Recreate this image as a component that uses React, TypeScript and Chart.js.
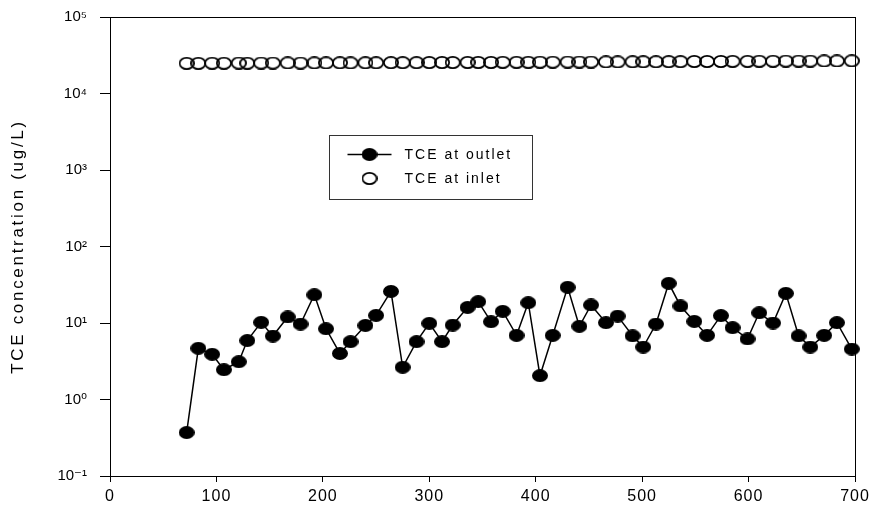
import React, { useEffect, useRef } from "react";
import { Chart, registerables } from "chart.js";

Chart.register(...registerables);

const days = [
  72, 83, 96, 107, 121, 129, 142, 153, 167, 179, 192, 203, 216, 226, 240, 250, 264, 275,
  288, 300, 312, 322, 336, 346, 358, 369, 382, 393, 404, 416, 430, 441, 452, 466, 477, 491,
  501, 513, 525, 536, 549, 561, 574, 585, 599, 610, 623, 635, 647, 658, 671, 683, 697,
];
const outletTCE = [
  0.37, 4.67, 3.9, 2.45, 3.12, 5.9, 10.2, 6.76, 12.0, 9.7, 23.4, 8.4, 4.0, 5.7, 9.3, 12.6, 25.9, 2.64,
  5.7, 9.9, 5.7, 9.4, 16.0, 19.0, 10.4, 14.2, 6.9, 18.4, 2.05, 6.9, 29.3, 9.06, 17.2, 10.1, 12.3, 6.8,
  4.85, 9.7, 33.0, 16.7, 10.5, 6.9, 12.5, 8.7, 6.2, 13.6, 10.0, 24.4, 6.8, 4.85, 6.9, 10.1, 4.57,
];
const inletTCE = [
  24800, 24800, 24900, 24900, 25000, 24900, 25000, 25000, 25100, 25000, 25100, 25100, 25200, 25100,
  25200, 25200, 25300, 25300, 25300, 25400, 25400, 25400, 25500, 25500, 25500, 25600, 25600, 25600,
  25700, 25700, 25800, 25800, 25800, 25900, 25900, 26000, 26000, 26000, 26100, 26100, 26200, 26200,
  26200, 26300, 26300, 26400, 26400, 26500, 26500, 26500, 26600, 26600, 26700,
];
const xMin = 0;
const xMax = 700;
const xStep = 100;
const yTickValues = [0.1, 1, 10, 100, 1000, 10000, 100000];
const yTickLabels = ["10⁻¹", "10⁰", "10¹", "10²", "10³", "10⁴", "10⁵"];
const seriesLabels = ["TCE at outlet", "TCE at inlet"];
const yTitle = "TCE concentration (ug/L)";

const FONT = "'Liberation Sans', Arial, 'DejaVu Sans', sans-serif";

function ellipseImage(w: number, h: number, filled: boolean, lw: number) {
  const c = document.createElement("canvas");
  c.width = w;
  c.height = h;
  const ctx = c.getContext("2d")!;
  ctx.beginPath();
  if (filled) {
    ctx.ellipse(w / 2, h / 2, w / 2, h / 2, 0, 0, Math.PI * 2);
    ctx.fillStyle = "#000";
    ctx.fill();
  } else {
    ctx.ellipse(w / 2, h / 2, w / 2 - lw / 2, h / 2 - lw / 2, 0, 0, Math.PI * 2);
    ctx.lineWidth = lw;
    ctx.strokeStyle = "#000";
    ctx.stroke();
  }
  return c;
}

function spaced(scale: any, method: string, spacing: string) {
  const key = "_sp_" + method;
  if (scale[key]) return;
  const orig = scale[method].bind(scale);
  scale[method] = (...args: any[]) => {
    const ctx = scale.ctx;
    const prev = ctx.letterSpacing;
    ctx.letterSpacing = spacing;
    orig(...args);
    ctx.letterSpacing = prev || "0px";
  };
  scale[key] = true;
}

function noPad(s: any) {
  s.paddingTop = 0;
  s.paddingBottom = 0;
  s.paddingLeft = 0;
  s.paddingRight = 0;
}

export default function App() {
  const ref = useRef<HTMLCanvasElement | null>(null);

  useEffect(() => {
    const canvas = ref.current;
    if (!canvas) return;
    const filledImg = ellipseImage(16, 13, true, 0);
    const openImg = ellipseImage(16, 13, false, 1.8);

    const frameAndLegend = {
      id: "frameAndLegend",
      afterDraw(chart: any) {
        const { ctx, chartArea } = chart;
        ctx.save();
        ctx.strokeStyle = "#000";
        ctx.lineWidth = 1;
        ctx.strokeRect(chartArea.left + 0.5, chartArea.top + 0.5, chartArea.right - chartArea.left, chartArea.bottom - chartArea.top);

        // legend box
        const bx = chartArea.left + 219.5;
        const by = chartArea.top + 118.5;
        ctx.strokeStyle = "#333";
        ctx.strokeRect(bx, by, 203, 64);
        const ds = chart.data.datasets;
        const rows = [by + 19, by + 43];
        const mx = bx + 40;
        ctx.font = "14px " + FONT;
        ctx.fillStyle = "#000";
        ctx.textBaseline = "middle";
        ctx.textAlign = "left";
        (ctx as any).letterSpacing = "2px";
        ds.forEach((d: any, i: number) => {
          const y = rows[i];
          if (d.showLine) {
            ctx.strokeStyle = "#000";
            ctx.lineWidth = 1.5;
            ctx.beginPath();
            ctx.moveTo(mx - 22, y);
            ctx.lineTo(mx + 22, y);
            ctx.stroke();
          }
          const img = d.pointStyle as HTMLCanvasElement;
          ctx.drawImage(img, mx - img.width / 2, y - img.height / 2);
          ctx.fillText(d.label, bx + 75, y + 1);
        });
        (ctx as any).letterSpacing = "0px";
        ctx.restore();
      },
    };

    const chart = new Chart(canvas, {
      type: "scatter",
      data: {
        datasets: [
          {
            label: seriesLabels[0],
            data: days.map((d, i) => ({ x: d, y: outletTCE[i] })),
            showLine: true,
            borderColor: "#000",
            borderWidth: 1.5,
            pointStyle: filledImg as any,
            pointRadius: 7,
            clip: false as any,
          },
          {
            label: seriesLabels[1],
            data: days.map((d, i) => ({ x: d, y: inletTCE[i] })),
            showLine: false,
            borderColor: "#000",
            pointStyle: openImg as any,
            pointRadius: 7,
            clip: false as any,
          },
        ],
      },
      options: {
        responsive: false,
        animation: false,
        events: [],
        layout: { padding: { left: 0, top: 17, right: 16, bottom: 0 } },
        plugins: { legend: { display: false }, tooltip: { enabled: false } },
        scales: {
          x: {
            type: "linear",
            min: xMin,
            max: xMax,
            grid: { drawOnChartArea: false, drawTicks: true, tickLength: 6, color: "#000", lineWidth: 1 },
            border: { display: true, color: "#000", width: 1 },
            ticks: {
              stepSize: xStep,
              color: "#000",
              font: { family: FONT, size: 16 },
              padding: 5,
              maxRotation: 0,
              autoSkip: false,
            },
            afterFit: (s: any) => {
              s.height = 30;
              noPad(s);
              spaced(s, "drawLabels", "1px");
            },
          },
          y: {
            type: "logarithmic",
            min: yTickValues[0],
            max: yTickValues[yTickValues.length - 1],
            grid: { drawOnChartArea: false, drawTicks: true, tickLength: 10, color: "#000", lineWidth: 1 },
            border: { display: true, color: "#000", width: 1 },
            afterBuildTicks: (s: any) => {
              s.ticks = yTickValues.map((v) => ({ value: v, major: true }));
            },
            ticks: {
              color: "#000",
              font: { family: FONT, size: 15 },
              padding: 13,
              autoSkip: false,
              callback: (v: any) => {
                const i = yTickValues.findIndex((t) => Math.abs(Math.log10(t) - Math.log10(Number(v))) < 1e-6);
                return i >= 0 ? yTickLabels[i] : "";
              },
            },
            title: {
              display: true,
              text: yTitle,
              color: "#000",
              font: { family: FONT, size: 17 },
              padding: { top: 8, bottom: 0 },
            },
            afterFit: (s: any) => {
              s.width = 110;
              noPad(s);
              spaced(s, "drawTitle", "2.7px");
            },
          },
        },
      },
      plugins: [frameAndLegend],
    });
    return () => chart.destroy();
  }, []);

  return (
    <div style={{ position: "absolute", left: 0, top: 0, width: 871, height: 506, background: "#fff" }}>
      <canvas ref={ref} width={871} height={506} style={{ display: "block" }} />
    </div>
  );
}
